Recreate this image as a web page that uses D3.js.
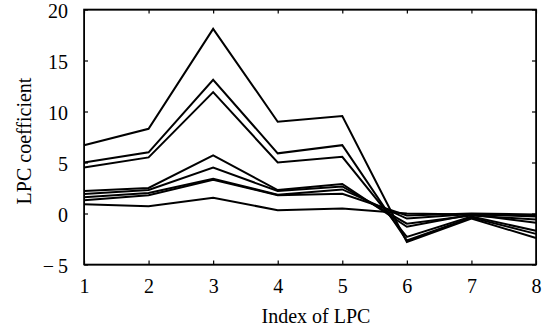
<!DOCTYPE html>
<html>
<head>
<meta charset="utf-8">
<script src="https://cdn.jsdelivr.net/npm/d3@7"></script>
<style>
  body { margin: 0; background: #fff; }
  svg { display: block; }
  text { font-family: "Liberation Serif", "Times New Roman", serif; fill: #000; }
  .axis path, .axis line { stroke: #000; }
</style>
</head>
<body>
<div id="chart"></div>
<script>
// LPC index on the x axis
const lpcIndex = [1, 2, 3, 4, 5, 6, 7, 8];

// one array of coefficients per frame
const frame1 = [6.7, 8.3, 18.1, 9.0, 9.55, -2.8, -0.5, -2.4];
const frame2 = [5.0, 6.0, 13.1, 5.9, 6.7, -2.65, -0.4, -2.0];
const frame3 = [4.5, 5.5, 11.9, 5.0, 5.56, -2.3, -0.3, -1.7];
const frame4 = [2.2, 2.5, 5.7, 2.3, 2.9, -1.3, -0.1, -0.9];
const frame5 = [1.9, 2.3, 4.5, 2.2, 2.65, -1.0, -0.2, -0.6];
const frame6 = [1.6, 2.0, 3.4, 1.84, 2.36, -0.5, -0.05, -0.3];
const frame7 = [1.3, 1.8, 3.3, 1.8, 1.94, -0.2, 0.0, -0.1];
const frame8 = [0.9, 0.7, 1.55, 0.32, 0.48, 0.0, -0.1, -0.2];
const frames = [frame1, frame2, frame3, frame4, frame5, frame6, frame7, frame8];

const xTicks = [1, 2, 3, 4, 5, 6, 7, 8];
const yTicks = [-5, 0, 5, 10, 15, 20];

const W = 542, H = 328;
const margin = {top: 9.5, right: 6, bottom: 63.5, left: 84};
const width = W - margin.left - margin.right;
const height = H - margin.top - margin.bottom;

const svg = d3.select("#chart").append("svg")
  .attr("width", W)
  .attr("height", H);

const g = svg.append("g")
  .attr("transform", `translate(${margin.left},${margin.top})`);

const x = d3.scaleLinear().domain([1, 8]).range([0, width]);
const y = d3.scaleLinear().domain([-5, 20]).range([height, 0]);

const fmt = d => d < 0 ? "\u2212\u2009" + Math.abs(d) : String(d);

// bottom axis with labels, ticks pointing inward
g.append("g")
  .attr("class", "axis")
  .attr("transform", `translate(0,${height})`)
  .call(d3.axisBottom(x).tickValues(xTicks).tickSizeInner(-4).tickSizeOuter(0).tickPadding(14).tickFormat(fmt))
  .call(a => a.selectAll("text").attr("font-size", 20));

// left axis
g.append("g")
  .attr("class", "axis")
  .call(d3.axisLeft(y).tickValues(yTicks).tickSizeInner(-4).tickSizeOuter(0).tickPadding(16).tickFormat(fmt))
  .call(a => a.selectAll("text").attr("font-size", 20).attr("dy", "0.4em"));

// top and right axes: ticks only
g.append("g")
  .attr("class", "axis")
  .call(d3.axisTop(x).tickValues(xTicks).tickSizeInner(-4).tickSizeOuter(0).tickFormat(""));
g.append("g")
  .attr("class", "axis")
  .attr("transform", `translate(${width},0)`)
  .call(d3.axisRight(y).tickValues(yTicks).tickSizeInner(-4).tickSizeOuter(0).tickFormat(""));

// frame
g.append("rect")
  .attr("width", width)
  .attr("height", height)
  .attr("fill", "none")
  .attr("stroke", "#000")
  .attr("stroke-width", 1.6);

g.selectAll(".axis line").attr("stroke-width", 1.2);
g.selectAll(".axis path").attr("stroke", "none");

// lines
const line = d3.line()
  .x((d, i) => x(lpcIndex[i]))
  .y(d => y(d));

g.selectAll(".frame")
  .data(frames)
  .join("path")
  .attr("class", "frame")
  .attr("d", line)
  .attr("fill", "none")
  .attr("stroke", "#000")
  .attr("stroke-width", 2)
  .attr("stroke-linejoin", "miter");

// axis labels
svg.append("text")
  .attr("x", margin.left + width / 2 + 6)
  .attr("y", 323)
  .attr("text-anchor", "middle")
  .attr("font-size", 20)
  .text("Index of LPC");

svg.append("text")
  .attr("transform", `translate(31,${margin.top + height / 2 + 4}) rotate(-90)`)
  .attr("text-anchor", "middle")
  .attr("font-size", 20)
  .text("LPC coefficient");
</script>
</body>
</html>
